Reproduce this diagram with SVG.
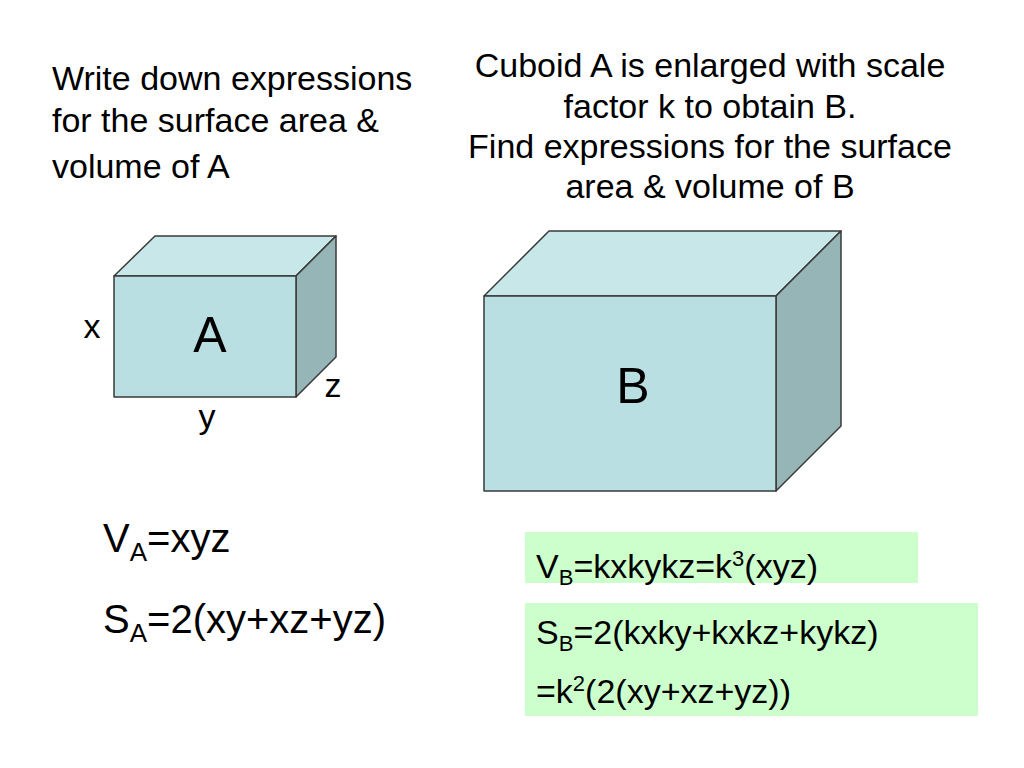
<svg xmlns="http://www.w3.org/2000/svg" width="1024" height="768" viewBox="0 0 1024 768">
<style>
text{font-family:"Liberation Sans",Arial,sans-serif;fill:#000}
.t{font-size:34px}
.lbl{font-size:34px;text-anchor:middle}
.big{font-size:50px;text-anchor:middle}
.front{fill:#B9DFE2;stroke:#3a3a3a;stroke-width:1.5;stroke-linejoin:round}
.top{fill:#C7E7E9;stroke:#3a3a3a;stroke-width:1.5;stroke-linejoin:round}
.side{fill:#96B5B6;stroke:#3a3a3a;stroke-width:1.5;stroke-linejoin:round}
.green{fill:#CCFFCC}
</style>
<rect width="1024" height="768" fill="#fff"/>
<g id="prompt-a">
<text class="t" x="52" y="90">Write down expressions</text>
<text class="t" x="52" y="132">for the surface area &amp;</text>
<text class="t" x="52" y="178">volume of A</text>
</g>
<g id="prompt-b">
<text class="t" x="710" y="77" text-anchor="middle">Cuboid A is enlarged with scale</text>
<text class="t" x="710" y="118" text-anchor="middle">factor k to obtain B.</text>
<text class="t" x="710" y="158" text-anchor="middle">Find expressions for the surface</text>
<text class="t" x="710" y="198" text-anchor="middle">area &amp; volume of B</text>
</g>
<g id="cuboid-a">
<polygon class="top" points="114,276 155,236 336,236 296,276"/>
<polygon class="side" points="296,276 336,236 336,357 296,397"/>
<rect class="front" x="114" y="276" width="182" height="121"/>
<text class="big" x="210" y="352">A</text>
<text class="lbl" x="92" y="338">x</text>
<text class="lbl" x="207" y="428">y</text>
<text class="lbl" x="333" y="397">z</text>
</g>
<g id="cuboid-b">
<polygon class="top" points="484,296 549,231 841,231 776,296"/>
<polygon class="side" points="776,296 841,231 841,426 776,491"/>
<rect class="front" x="484" y="296" width="292" height="195"/>
<text class="big" x="633" y="403">B</text>
</g>
<g id="formulas-a">
<text x="103" y="552" font-size="40">V<tspan font-size="26" dy="9">A</tspan><tspan dy="-9">=xyz</tspan></text>
<text x="103" y="633" font-size="40">S<tspan font-size="26" dy="9">A</tspan><tspan dy="-9">=2(xy+xz+yz)</tspan></text>
</g>
<g id="volume-b">
<rect class="green" x="525" y="532" width="393" height="51"/>
<text x="536" y="578" font-size="34">V<tspan font-size="22" dy="7">B</tspan><tspan dy="-7">=kxkykz=k</tspan><tspan font-size="22" dy="-12">3</tspan><tspan dy="12">(xyz)</tspan></text>
</g>
<g id="surface-b">
<rect class="green" x="525" y="603" width="453" height="113"/>
<text x="536" y="644" font-size="34">S<tspan font-size="22" dy="7">B</tspan><tspan dy="-7">=2(kxky+kxkz+kykz)</tspan></text>
<text x="536" y="703" font-size="34">=k<tspan font-size="22" dy="-12">2</tspan><tspan dy="12">(2(xy+xz+yz))</tspan></text>
</g>
<g id="connectors"></g>
</svg>
